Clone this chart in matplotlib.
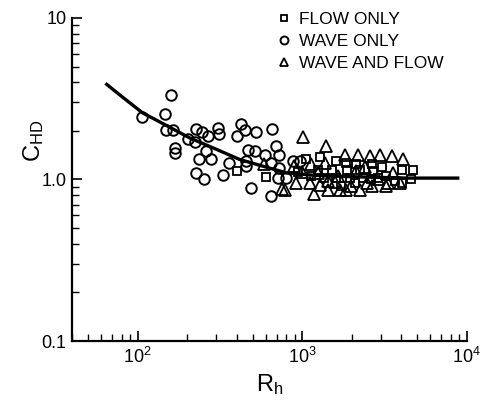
import matplotlib.pyplot as plt
from matplotlib.ticker import FixedLocator, FixedFormatter, LogLocator, NullFormatter

plt.rcParams['font.family'] = ['Liberation Sans', 'DejaVu Sans']
plt.rcParams['mathtext.default'] = 'regular'

wave_r = [107, 147, 160, 148, 164, 168, 170, 203, 222, 227, 248, 268, 308, 312, 262,
          236, 281, 225, 253, 329, 359, 403, 427, 450, 521, 470, 514, 457, 457, 486,
          596, 658, 650, 719, 713, 794, 644, 695, 720, 879, 966]
wave_c = [2.43, 2.55, 3.31, 2.01, 2.01, 1.56, 1.45, 1.77, 1.70, 2.06, 1.97, 1.85, 2.09, 1.90, 1.50,
          1.33, 1.33, 1.09, 1.00, 1.07, 1.27, 1.85, 2.21, 2.02, 1.96, 1.53, 1.50, 1.31, 1.21, 0.89,
          1.42, 2.05, 1.27, 1.17, 1.02, 1.02, 0.79, 1.61, 1.42, 1.30, 1.30]

flow_r = [404, 600, 1060, 1290, 1600, 1840, 2130, 2640, 1250, 1510, 1860, 2240, 2690, 942, 1130,
          1360, 1610, 1950, 2340, 2870, 3060, 4010, 4720, 4600, 3250, 4010, 1730, 2080, 3650, 2610]
flow_c = [1.13, 1.04, 1.34, 1.38, 1.30, 1.27, 1.25, 1.24, 1.14, 1.15, 1.15, 1.15, 1.13, 1.11, 1.05,
          1.02, 1.02, 1.02, 1.02, 1.02, 1.20, 1.14, 1.15, 1.00, 1.05, 0.95, 0.909, 0.945, 0.972, 1.00]

both_r = [583, 759, 1007, 1390, 1810, 2170, 2570, 2960, 3520, 4100, 922, 1110, 1180, 1440, 1440,
          1690, 1970, 2240, 2490, 2660, 1370, 1130, 891, 783, 2110, 1650, 1250, 2890, 3330, 3920,
          3560, 1840, 3250, 1580, 1280, 993, 2400]
both_c = [1.25, 0.875, 1.83, 1.61, 1.41, 1.41, 1.39, 1.41, 1.39, 1.34, 0.954, 0.954, 0.81, 0.976, 0.855,
          0.867, 0.909, 0.867, 0.954, 0.909, 1.27, 1.24, 1.21, 0.867, 1.13, 1.05, 1.10, 1.00, 0.954, 0.954,
          1.10, 0.859, 0.909, 0.958, 0.918, 1.12, 1.19]

curve_r = [65, 80, 107, 146, 207, 300, 417, 575, 800, 1200, 2000, 4400, 8800]
curve_c = [3.88, 3.27, 2.59, 2.19, 1.81, 1.54, 1.33, 1.21, 1.10, 1.06, 1.04, 1.02, 1.02]

fig = plt.figure(figsize=(4.93, 4.07), dpi=100)
ax = fig.add_axes([0.146, 0.162, 0.801, 0.794])
ax.set_xscale('log')
ax.set_yscale('log')

ax.plot(curve_r, curve_c, color='black', linewidth=2.4, zorder=3)
ax.plot(flow_r, flow_c, linestyle='none', marker='s', markersize=6.2,
        markerfacecolor='none', markeredgecolor='black', markeredgewidth=1.3, label='FLOW ONLY')
ax.plot(wave_r, wave_c, linestyle='none', marker='o', markersize=7.6,
        markerfacecolor='none', markeredgecolor='black', markeredgewidth=1.4, label='WAVE ONLY')
ax.plot(both_r, both_c, linestyle='none', marker='^', markersize=8.5,
        markerfacecolor='none', markeredgecolor='black', markeredgewidth=1.3, label='WAVE AND FLOW')

ax.set_xlim(40, 10000)
ax.set_ylim(0.1, 10)

for side in ['top', 'right']:
    ax.spines[side].set_visible(False)
for side in ['left', 'bottom']:
    ax.spines[side].set_linewidth(1.6)

ax.yaxis.set_major_locator(FixedLocator([0.1, 1, 10]))
ax.yaxis.set_major_formatter(FixedFormatter(['0.1', '1.0', '10']))
ax.yaxis.set_minor_locator(LogLocator(base=10, subs=range(2, 10)))
ax.yaxis.set_minor_formatter(NullFormatter())
ax.xaxis.set_major_locator(FixedLocator([100, 1000, 10000]))
ax.xaxis.set_major_formatter(FixedFormatter(['$10^2$', '$10^3$', '$10^4$']))
ax.xaxis.set_minor_locator(LogLocator(base=10, subs=range(2, 10)))
ax.xaxis.set_minor_formatter(NullFormatter())
ax.tick_params(which='major', direction='in', length=7, width=1.2, labelsize=13, pad=4)
ax.tick_params(which='minor', direction='in', length=5, width=1.0)

ax.set_xlabel('R$_h$', fontsize=17, labelpad=4)
ax.set_ylabel('C$_{HD}$', fontsize=17)
ax.yaxis.set_label_coords(-0.065, 0.62)

leg = ax.legend(loc='upper left', bbox_to_anchor=(0.479, 1.068), frameon=False, fontsize=12.5,
                handlelength=0.8, handletextpad=0.5, labelspacing=0.4, markerscale=0.75)

fig.savefig('out.png', dpi=100)
